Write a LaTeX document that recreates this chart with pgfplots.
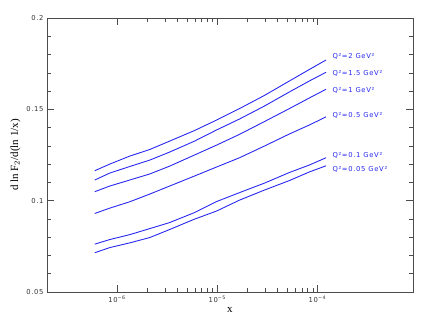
\documentclass[border=0pt]{standalone}
\usepackage{fontspec}
\usepackage{pgfplots}
\pgfplotsset{compat=1.18}
\usetikzlibrary{calc}
\setmainfont{Liberation Serif}
\newfontfamily\tickfont[LetterSpace=10]{DejaVu Sans}
\definecolor{curveblue}{RGB}{40,40,240}

\begin{document}
\begin{tikzpicture}
  \begin{axis}[name=ax, scale only axis, width=366pt, height=274pt,
      xmode=log, xmin=2e-7, xmax=9e-4,
      ymin=0.05, ymax=0.2,
      xtick={1e-6,1e-5,1e-4},
      xticklabels={10\textsuperscript{−6},10\textsuperscript{−5},10\textsuperscript{−4}},
      ytick={0.05,0.1,0.15,0.2},
      yticklabels={0.05,0.1,0.15,0.2},
      minor y tick num=4,
      tick align=inside, major tick length=7pt, minor tick length=4pt,
      axis line style={black!70, line width=0.8pt},
      every tick/.style={black!70, line width=0.6pt},
      tick label style={font=\tickfont\fontsize{6.8}{7}\selectfont, black!80},
      xlabel={x}, ylabel={d ln F$_2$/d(ln 1/x)},
      label style={font=\fontsize{11}{12}\selectfont},
      xlabel style={yshift=2pt},
      ylabel style={yshift=-1pt},
      clip=false]
    % Q^2 = 2
    \addplot[curveblue, line width=0.9pt] coordinates {
      (6.0e-7,0.1164) (8.45e-7,0.1200) (1.34e-6,0.1244) (2.12e-6,0.1280)
      (3.35e-6,0.1326) (5.94e-6,0.1384) (9.84e-6,0.1441) (1.67e-5,0.1504)
      (2.96e-5,0.1576) (5.25e-5,0.1655) (8.3e-5,0.1718) (1.22e-4,0.1770)};
    % Q^2 = 1.5
    \addplot[curveblue, line width=0.9pt] coordinates {
      (6.0e-7,0.1113) (8.45e-7,0.1151) (1.34e-6,0.1187) (2.12e-6,0.1222)
      (3.35e-6,0.1266) (5.94e-6,0.1326) (9.84e-6,0.1387) (1.67e-5,0.1447)
      (2.96e-5,0.1518) (5.25e-5,0.1595) (8.3e-5,0.1655) (1.22e-4,0.1703)};
    % Q^2 = 1
    \addplot[curveblue, line width=0.9pt] coordinates {
      (6.0e-7,0.1049) (8.45e-7,0.1080) (1.34e-6,0.1113) (2.12e-6,0.1146)
      (3.35e-6,0.1189) (5.94e-6,0.1250) (9.84e-6,0.1304) (1.67e-5,0.1363)
      (2.96e-5,0.1433) (5.25e-5,0.1504) (8.3e-5,0.1562) (1.22e-4,0.1610)};
    % Q^2 = 0.5
    \addplot[curveblue, line width=0.9pt] coordinates {
      (6.0e-7,0.0930) (8.45e-7,0.0959) (1.34e-6,0.0994) (2.12e-6,0.1036)
      (3.35e-6,0.1080) (5.94e-6,0.1135) (9.84e-6,0.1184) (1.67e-5,0.1235)
      (2.96e-5,0.1299) (5.25e-5,0.1365) (8.3e-5,0.1414) (1.22e-4,0.1459)};
    % Q^2 = 0.1
    \addplot[curveblue, line width=0.9pt] coordinates {
      (6.0e-7,0.0762) (8.45e-7,0.0787) (1.34e-6,0.0814) (2.12e-6,0.0847)
      (3.35e-6,0.0880) (5.94e-6,0.0935) (9.84e-6,0.0995) (1.67e-5,0.1044)
      (2.96e-5,0.1096) (5.25e-5,0.1154) (8.3e-5,0.1195) (1.22e-4,0.1235)};
    % Q^2 = 0.05
    \addplot[curveblue, line width=0.9pt] coordinates {
      (6.0e-7,0.0715) (8.45e-7,0.0743) (1.34e-6,0.0769) (2.12e-6,0.0798)
      (3.35e-6,0.0842) (5.94e-6,0.0899) (9.84e-6,0.0943) (1.67e-5,0.1003)
      (2.96e-5,0.1058) (5.25e-5,0.1110) (8.3e-5,0.1157) (1.22e-4,0.1191)};
    \begin{scope}[every node/.style={anchor=west, inner sep=0pt, text=curveblue,
        font=\tickfont\fontsize{6.8}{7}\selectfont}]
      \node at (axis cs:1.41e-4,0.1788) {Q²=2 GeV²};
      \node at (axis cs:1.41e-4,0.1697) {Q²=1.5 GeV²};
      \node at (axis cs:1.41e-4,0.1606) {Q²=1 GeV²};
      \node at (axis cs:1.41e-4,0.1469) {Q²=0.5 GeV²};
      \node at (axis cs:1.41e-4,0.1250) {Q²=0.1 GeV²};
      \node at (axis cs:1.41e-4,0.1173) {Q²=0.05 GeV²};
    \end{scope}
  \end{axis}
  \path[use as bounding box] ($(ax.south west)+(-47pt,-35pt)$) rectangle ($(ax.north east)+(23pt,18pt)$);
\end{tikzpicture}
\end{document}
